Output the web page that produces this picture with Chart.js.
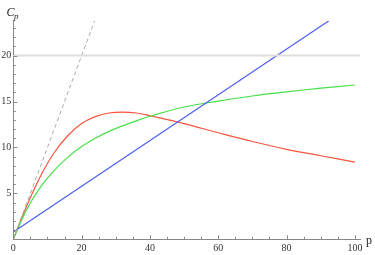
<!DOCTYPE html>
<html>
<head>
<meta charset="utf-8">
<script src="https://cdn.jsdelivr.net/npm/chart.js@4"></script>
<style>
  html, body { margin: 0; padding: 0; background: #fff; }
  #wrap { width: 375px; height: 255px; }
</style>
</head>
<body>
<div id="wrap"><canvas id="cp"></canvas></div>
<script>
// values
const pCurve = [0, 4, 8, 12, 16, 20, 24, 28, 32, 36, 40, 50, 60, 70, 80, 90, 100];
const cpRed = [0, 3.7, 6.9, 9.45, 11.3, 12.6, 13.35, 13.75, 13.85, 13.75, 13.45, 12.6, 11.6, 10.65, 9.8, 9.1, 8.4];
const cpGreen = [0, 3.3, 5.7, 7.5, 8.95, 10.1, 11.0, 11.75, 12.35, 12.9, 13.4, 14.4, 15.05, 15.6, 16.05, 16.45, 16.8];
const pBlue = [0, 92.4];
const cpBlue = [0.8, 23.8];
const pDash = [0, 23.8];
const cpDash = [0, 23.8];
const pLimit = [0, 101.5];
const cpLimit = [20, 20];

const xTicks = [0, 20, 40, 60, 80, 100];
const yTicks = [5, 10, 15, 20];

function pts(xs, ys) {
  return xs.map((x, i) => ({ x: x, y: ys[i] }));
}

const serif = "'Liberation Serif', 'DejaVu Serif', serif";

// Mathematica style: ticks point into the plot
const innerTicks = {
  id: "innerTicks",
  afterDraw(chart) {
    const ctx = chart.ctx;
    const xs = chart.scales.x, ys = chart.scales.y;
    const a = chart.chartArea;
    ctx.save();
    ctx.strokeStyle = "#888";
    ctx.lineWidth = 1;
    ctx.beginPath();
    for (let v = 0; v <= 100; v += 5) {
      const px = Math.round(xs.getPixelForValue(v)) + 0.5;
      const len = v % 20 === 0 ? 4 : 2.5;
      ctx.moveTo(px, a.bottom);
      ctx.lineTo(px, a.bottom - len);
    }
    for (let v = 1; v <= 23; v += 1) {
      const py = Math.round(ys.getPixelForValue(v)) + 0.5;
      const len = v % 5 === 0 ? 4 : 2.5;
      ctx.moveTo(a.left, py);
      ctx.lineTo(a.left + len, py);
    }
    ctx.stroke();

    ctx.fillStyle = "#222";
    ctx.textBaseline = "alphabetic";
    ctx.font = "italic 12px " + serif;
    ctx.fillText("C", 6.5, 16);
    ctx.font = "italic 9px " + serif;
    ctx.fillText("p", 14, 18.5);
    ctx.font = "12px " + serif;
    ctx.fillText("p", 366, 244);
    ctx.restore();
  }
};

new Chart(document.getElementById("cp"), {
  type: "scatter",
  data: {
    datasets: [
      { data: pts(pLimit, cpLimit), borderColor: "#dedede", borderWidth: 2 },
      { data: pts(pDash, cpDash), borderColor: "#aaaaaa", borderWidth: 1, borderDash: [4, 3] },
      { data: pts(pBlue, cpBlue), borderColor: "#4a5cf5", borderWidth: 1.2 },
      { data: pts(pCurve, cpGreen), borderColor: "#48e048", borderWidth: 1.2, tension: 0.4 },
      { data: pts(pCurve, cpRed), borderColor: "#f5553c", borderWidth: 1.2, tension: 0.4 }
    ]
  },
  options: {
    responsive: true,
    maintainAspectRatio: false,
    animation: false,
    showLine: true,
    elements: { point: { radius: 0 } },
    layout: { padding: { top: 20.7, right: 15, left: 0, bottom: 0 } },
    plugins: { legend: { display: false }, tooltip: { enabled: false } },
    scales: {
      x: {
        type: "linear",
        min: 0,
        max: 101.5,
        afterBuildTicks: s => { s.ticks = xTicks.map(v => ({ value: v })); },
        afterFit: s => { s.height = 15.7; },
        grid: { display: false, drawTicks: false },
        border: { color: "#888", width: 1 },
        ticks: { color: "#333", font: { family: serif, size: 10 }, padding: 3, maxRotation: 0 }
      },
      y: {
        type: "linear",
        min: 0,
        max: 23.8,
        afterBuildTicks: s => { s.ticks = yTicks.map(v => ({ value: v })); },
        afterFit: s => { s.width = 13.3; },
        grid: { display: false, drawTicks: false },
        border: { color: "#888", width: 1 },
        ticks: { color: "#333", font: { family: serif, size: 10 }, padding: 2 }
      }
    }
  },
  plugins: [innerTicks]
});
</script>
</body>
</html>
